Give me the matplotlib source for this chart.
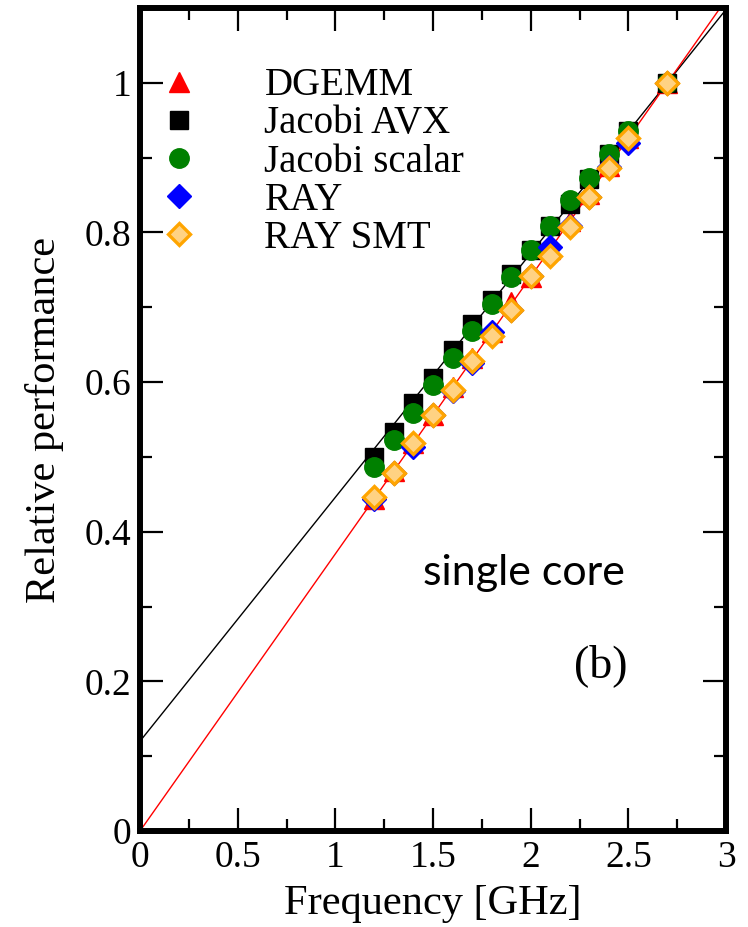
import numpy as np
import matplotlib.pyplot as plt
from matplotlib.ticker import MultipleLocator

freq = [1.2, 1.3, 1.4, 1.5, 1.6, 1.7, 1.8, 1.9, 2.0, 2.1, 2.2, 2.3, 2.4, 2.5, 2.7]

dgemm = [0.444, 0.481, 0.519, 0.556, 0.593, 0.632, 0.667, 0.707, 0.741, 0.778, 0.815, 0.852, 0.889, 0.926, 1.0]
jacobi_avx = [0.500, 0.533, 0.572, 0.606, 0.643, 0.678, 0.710, 0.745, 0.776, 0.808, 0.838, 0.872, 0.905, 0.936, 1.0]
jacobi_scalar = [0.486, 0.522, 0.558, 0.596, 0.632, 0.668, 0.705, 0.740, 0.776, 0.808, 0.843, 0.873, 0.905, 0.936, 1.0]
ray = [0.444, 0.478, 0.513, 0.556, 0.588, 0.626, 0.667, 0.696, 0.742, 0.780, 0.808, 0.848, 0.888, 0.920, 1.0]
ray_smt = [0.446, 0.478, 0.518, 0.556, 0.590, 0.628, 0.661, 0.696, 0.742, 0.768, 0.807, 0.847, 0.886, 0.926, 1.0]

# linear fits: (intercept, slope)
fit_jacobi = (0.12, 0.326)
fit_dgemm = (0.0, 1 / 2.7)

serif = 'Liberation Serif'

fig = plt.figure(figsize=(7.48, 9.27), dpi=100)
ax = fig.add_axes([0.1872, 0.1036, 0.7834, 0.8878])

xl = np.array([0.0, 3.0])
ax.plot(xl, fit_jacobi[0] + fit_jacobi[1] * xl, color='black', lw=1.0, zorder=1)
ax.plot(xl, fit_dgemm[0] + fit_dgemm[1] * xl, color='red', lw=1.0, zorder=1)

ax.plot(freq, dgemm, ls='none', marker='^', ms=14, color='red', label='DGEMM', zorder=2)
ax.plot(freq, jacobi_avx, ls='none', marker='s', ms=13.5, color='black', label='Jacobi AVX', zorder=3)
ax.plot(freq, jacobi_scalar, ls='none', marker='o', ms=14, color='green', label='Jacobi scalar', zorder=4)
ax.plot(freq, ray, ls='none', marker='D', ms=12, color='blue', label='RAY', zorder=5)
ax.plot(freq, ray_smt, ls='none', marker='D', ms=11.5, mfc='#ffd283', mec='#ffa500', mew=2.4,
        label='RAY SMT', zorder=6)

ax.set_xlim(0, 3)
ax.set_ylim(0, 1.1)
ax.xaxis.set_minor_locator(MultipleLocator(0.25))
ax.yaxis.set_minor_locator(MultipleLocator(0.1))
ax.set_xticks([0, 0.5, 1, 1.5, 2, 2.5, 3], ['0', '0.5', '1', '1.5', '2', '2.5', '3'])
ax.set_yticks([0, 0.2, 0.4, 0.6, 0.8, 1.0], ['0', '0.2', '0.4', '0.6', '0.8', '1'])
ax.tick_params(which='both', direction='in', top=True, right=True, width=1.6, labelsize=27)
ax.tick_params(axis='x', pad=7)
ax.tick_params(axis='y', pad=6)
ax.tick_params(which='major', length=16.5)
ax.tick_params(which='minor', length=8.5)
for lab in ax.get_xticklabels() + ax.get_yticklabels():
    lab.set_family(serif)
for s in ax.spines.values():
    s.set_linewidth(4.3)

ax.set_xlabel('Frequency [GHz]', fontsize=30.5, family=serif, labelpad=7)
ax.set_ylabel('Relative performance', fontsize=30.5, family=serif, labelpad=15)

leg = ax.legend(loc='upper left', bbox_to_anchor=(0.0, 0.928), frameon=False,
                prop={'family': serif, 'size': 28}, handlelength=2.0, handletextpad=1.2,
                labelspacing=0.03, borderpad=0, borderaxespad=0)

ax.text(1.45, 0.345, 'single core', fontsize=31, family='Lato', ha='left', va='center')
ax.text(2.36, 0.221, '(b)', fontsize=33, family=serif, ha='center', va='center')

fig.savefig('out.png', dpi=100)
